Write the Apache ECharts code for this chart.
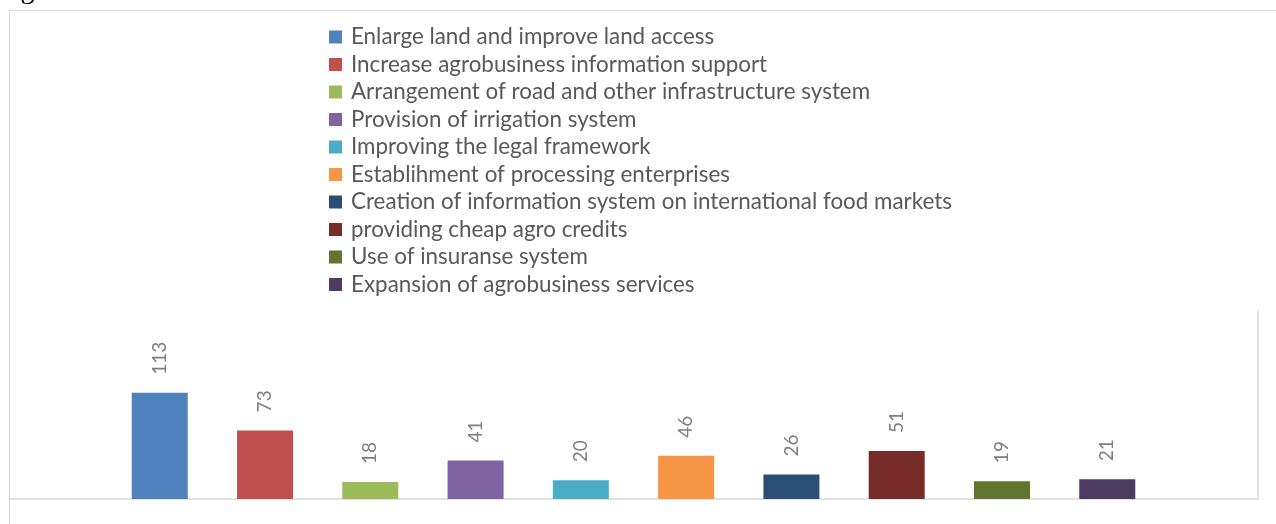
<!DOCTYPE html>
<html>
<head>
<meta charset="utf-8">
<script src="https://cdn.jsdelivr.net/npm/echarts@6/dist/echarts.min.js"></script>
<style>
html,body{margin:0;padding:0;background:#fff;}
#chart{width:1276px;height:524px;}
</style>
</head>
<body>
<div id="chart"></div>
<script>
const seriesNames = [
  'Enlarge land and improve land access',
  'Increase agrobusiness information support',
  'Arrangement of road and other infrastructure system',
  'Provision of irrigation system',
  'Improving the legal framework',
  'Establihment of processing enterprises',
  'Creation of information system on international food markets',
  'providing cheap agro credits',
  'Use of insuranse system',
  'Expansion of agrobusiness services'
];
const seriesValues = [113, 73, 18, 41, 20, 46, 26, 51, 19, 21];
const seriesColors = ['#4F81BD','#C0504D','#9BBB59','#8064A2','#4BACC6','#F79646','#2C4D75','#772C2A','#5F7530','#4D3B62'];
const categories = [''];

const chart = echarts.init(document.getElementById('chart'));
const series = seriesNames.map((name, i) => ({
  name: name,
  type: 'bar',
  data: [seriesValues[i]],
  barWidth: 56,
  barGap: '88%',
  itemStyle: { color: seriesColors[i] },
  label: {
    show: true,
    position: 'top',
    rotate: 90,
    align: 'left',
    verticalAlign: 'middle',
    distance: 18,
    color: '#7F7F7F',
    fontFamily: 'Lato',
    fontSize: 19
  }
}));

chart.setOption({
  animation: false,
  backgroundColor: '#ffffff',
  graphic: [
    { type: 'rect', shape: { x: 9.5, y: 10.5, width: 1300, height: 600 },
      style: { fill: 'none', stroke: '#D9D9D9', lineWidth: 1 }, z: -1 },
    { type: 'text', x: 8, y: 5,
      style: { text: 'agrobusiness.', font: '28px "Liberation Serif"', fill: '#000', verticalAlign: 'bottom', align: 'left' } }
  ],
  legend: {
    orient: 'vertical',
    left: 329,
    top: 26,
    padding: 0,
    icon: 'rect',
    itemWidth: 13,
    itemHeight: 13,
    itemGap: 5.5,
    textStyle: { color: '#595959', fontFamily: 'Lato', fontSize: 22.4, lineHeight: 20, padding: [0, 0, 0, 4] },
    data: seriesNames
  },
  grid: { left: 9, right: 18, top: 311, bottom: 25, containLabel: false },
  xAxis: {
    type: 'category',
    data: categories,
    axisLine: { show: true, lineStyle: { color: '#D9D9D9', width: 1.5 } },
    axisTick: { show: false },
    axisLabel: { show: false }
  },
  yAxis: {
    type: 'value',
    min: 0,
    max: 200,
    position: 'right',
    axisLine: { show: true, lineStyle: { color: '#D9D9D9', width: 1.5 } },
    axisTick: { show: false },
    axisLabel: { show: false },
    splitLine: { show: false }
  },
  series: series
});
</script>
</body>
</html>
